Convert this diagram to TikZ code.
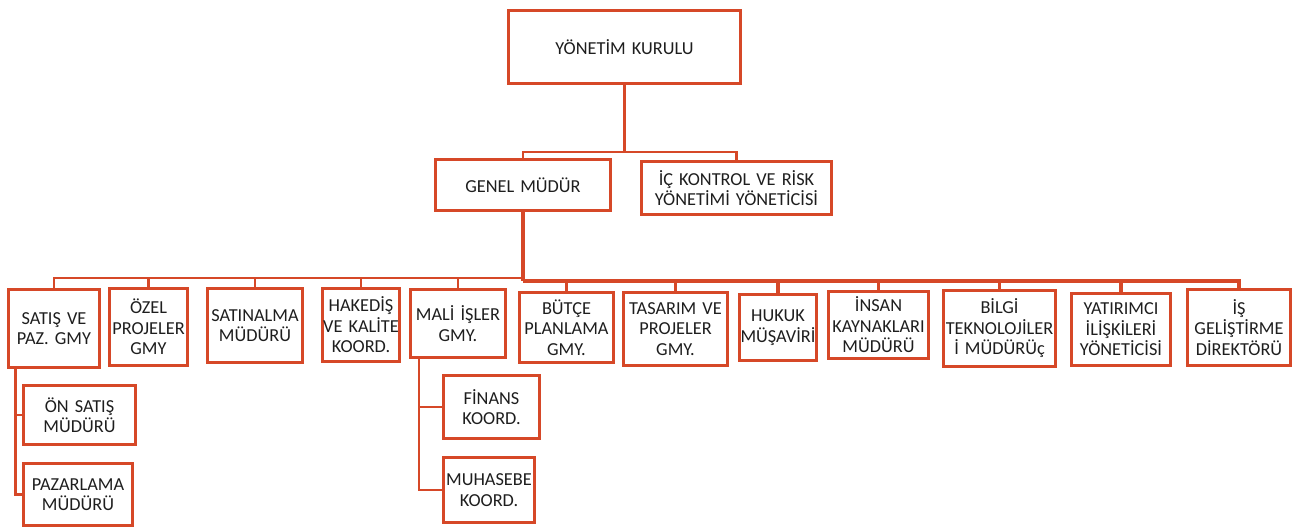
\documentclass[tikz,border=0pt]{standalone}
\usepackage{fontspec}
\setmainfont{Carlito}
\definecolor{org}{RGB}{214,72,40}
\definecolor{txt}{RGB}{30,30,30}
\begin{document}
\begin{tikzpicture}[x=1pt,y=-1pt,
 box/.style={draw=org, line width=3pt, fill=white, align=center, inner xsep=0pt, inner ysep=0pt, text=txt, font=\fontsize{18.3}{20.5}\selectfont},
 conn/.style={draw=org, line width=2.5pt},
 trunk/.style={draw=org, line width=3.5pt}]
\useasboundingbox[fill=white] (0,0) rectangle (1295,528);

\node[box, text width=232pt, minimum height=73pt] (yk) at (624.5,47) {YÖNETİM KURULU};
\node[box, text width=175pt, minimum height=51pt] (gm) at (523,185) {GENEL MÜDÜR};
\node[box, text width=190pt, minimum height=53pt] (ick) at (736.5,188) {İÇ KONTROL VE RİSK\\YÖNETİMİ YÖNETİCİSİ};

\node[box, text width=91pt, minimum height=78pt] (satis) at (54,328.5) {SATIŞ VE\\PAZ. GMY};
\node[box, text width=78pt, minimum height=77pt] (ozel) at (148.5,327) {ÖZEL\\PROJELER\\GMY};
\node[box, text width=95pt, minimum height=74pt] (satin) at (255,325.5) {SATINALMA\\MÜDÜRÜ};
\node[box, text width=77pt, minimum height=73pt] (hak) at (361,325) {HAKEDİŞ\\VE KALİTE\\KOORD.};
\node[box, text width=95pt, minimum height=68pt] (mali) at (458,323.5) {MALİ İŞLER\\GMY.};
\node[box, text width=94pt, minimum height=70pt] (butce) at (566.5,327.5) {BÜTÇE\\PLANLAMA\\GMY.};
\node[box, text width=104pt, minimum height=73pt] (tas) at (675.5,329) {TASARIM VE\\PROJELER\\GMY.};
\node[box, text width=77pt, minimum height=66pt] (hukuk) at (778,327.5) {HUKUK\\MÜŞAVİRİ};
\node[box, text width=100pt, minimum height=67pt] (insan) at (878.5,325) {İNSAN\\KAYNAKLARI\\MÜDÜRÜ};
\node[box, text width=112pt, minimum height=76pt] (bilgi) at (999.5,328.5) {BİLGİ\\TEKNOLOJİLER\\İ MÜDÜRÜç};
\node[box, text width=99pt, minimum height=72pt] (yat) at (1121,329.5) {YATIRIMCI\\İLİŞKİLERİ\\YÖNETİCİSİ};
\node[box, text width=103pt, minimum height=76pt] (is) at (1239,327.5) {İŞ\\GELİŞTİRME\\DİREKTÖRÜ};

\node[box, text width=112pt, minimum height=59pt] (onsatis) at (79.5,415) {ÖN SATIŞ\\MÜDÜRÜ};
\node[box, text width=109pt, minimum height=62pt] (paz) at (78,494.5) {PAZARLAMA\\MÜDÜRÜ};
\node[box, text width=96pt, minimum height=63pt] (fin) at (491.5,407) {FİNANS\\KOORD.};
\node[box, text width=91pt, minimum height=65pt] (muh) at (489,490) {MUHASEBE\\KOORD.};

\coordinate (t1) at (624.5,152);
\draw[conn] (yk.south) -- (t1);
\draw[conn] (t1) -| (gm.north);
\draw[conn] (t1) -| (ick.north);

\coordinate (jL) at (523,278);
\coordinate (jR) at (523,281);
\draw[trunk] (gm.south) -- (jR);
\foreach \n in {satis,ozel,satin,hak,mali} \draw[conn] (jL) -| (\n.north);
\foreach \n in {butce,tas,hukuk,insan,bilgi,yat,is} \draw[trunk] (jR) -| (\n.north);

\draw[conn] ([xshift=8.5pt]satis.south west) |- (onsatis.west);
\draw[conn] ([xshift=8.5pt]satis.south west) |- (paz.west);
\draw[conn] ([xshift=10pt]mali.south west) |- (fin.west);
\draw[conn] ([xshift=10pt]mali.south west) |- (muh.west);
\end{tikzpicture}
\end{document}
